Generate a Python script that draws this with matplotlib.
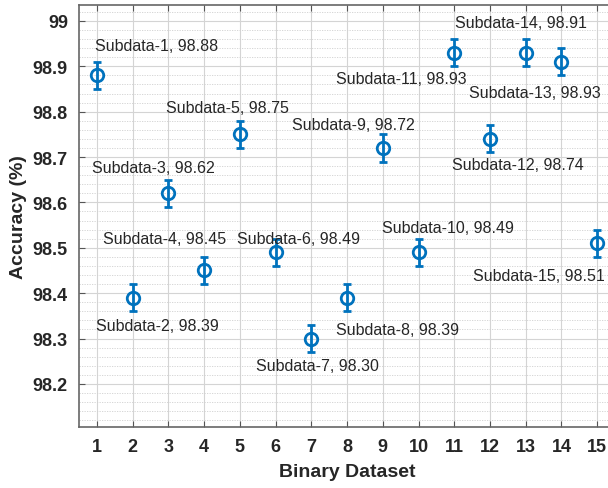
import matplotlib.pyplot as plt
from matplotlib.ticker import MultipleLocator

plt.rcParams["font.family"] = ["Liberation Sans", "DejaVu Sans"]

datasets = list(range(1, 16))
accuracy = [98.88, 98.39, 98.62, 98.45, 98.75, 98.49, 98.30, 98.39,
            98.72, 98.49, 98.93, 98.74, 98.93, 98.91, 98.51]
error = [0.03] * 15
labels = [
    "Subdata-1, 98.88", "Subdata-2, 98.39", "Subdata-3, 98.62",
    "Subdata-4, 98.45", "Subdata-5, 98.75", "Subdata-6, 98.49",
    "Subdata-7, 98.30", "Subdata-8, 98.39", "Subdata-9, 98.72",
    "Subdata-10, 98.49", "Subdata-11, 98.93", "Subdata-12, 98.74",
    "Subdata-13, 98.93", "Subdata-14, 98.91", "Subdata-15, 98.51",
]
# label anchor (left edge, vertical centre) in data units
label_pos = [
    (0.94, 98.945), (0.97, 98.328), (0.86, 98.678), (1.17, 98.52),
    (2.93, 98.81), (4.92, 98.52), (5.45, 98.24), (7.69, 98.319),
    (6.46, 98.771), (8.98, 98.544), (7.69, 98.872), (10.94, 98.683),
    (11.42, 98.843), (11.03, 98.996), (11.53, 98.438),
]

fig = plt.figure(figsize=(6.08, 4.89), dpi=100)
ax = fig.add_axes([0.13, 0.1247, 0.8816, 0.863])

ax.errorbar(datasets, accuracy, yerr=error, fmt="o", color="#0072BD",
            markerfacecolor="none", markersize=9, markeredgewidth=2,
            elinewidth=2, capsize=3, capthick=2, zorder=3)

for text, (tx, ty) in zip(labels, label_pos):
    ax.text(tx, ty, text, ha="left", va="center", fontsize=11.5, color="#262626")

ax.set_xlim(0.5, 15.5)
ax.set_ylim(98.105, 99.035)
ax.set_xticks(datasets)
ax.set_yticks([98.2, 98.3, 98.4, 98.5, 98.6, 98.7, 98.8, 98.9, 99.0])
ax.set_yticklabels(["98.2", "98.3", "98.4", "98.5", "98.6", "98.7", "98.8", "98.9", "99"])
ax.yaxis.set_minor_locator(MultipleLocator(0.02))

ax.grid(which="major", color="#d4d4d4", linewidth=0.8)
ax.grid(which="minor", axis="y", color="#d0d0d0", linewidth=0.6, linestyle=(0, (1.5, 1.5)))
ax.set_axisbelow(True)

ax.tick_params(which="major", direction="in", top=True, right=True,
               length=4, color="#555555", labelsize=13, pad=8)
ax.tick_params(which="minor", length=0)
for lbl in ax.get_xticklabels() + ax.get_yticklabels():
    lbl.set_fontweight("bold")
    lbl.set_color("#262626")
for spine in ax.spines.values():
    spine.set_color("#666666")
    spine.set_linewidth(1.2)

ax.set_xlabel("Binary Dataset", fontsize=14, fontweight="bold", color="#262626", labelpad=6)
ax.set_ylabel("Accuracy (%)", fontsize=14, fontweight="bold", color="#262626", labelpad=4)

fig.savefig("out.png", dpi=100)
